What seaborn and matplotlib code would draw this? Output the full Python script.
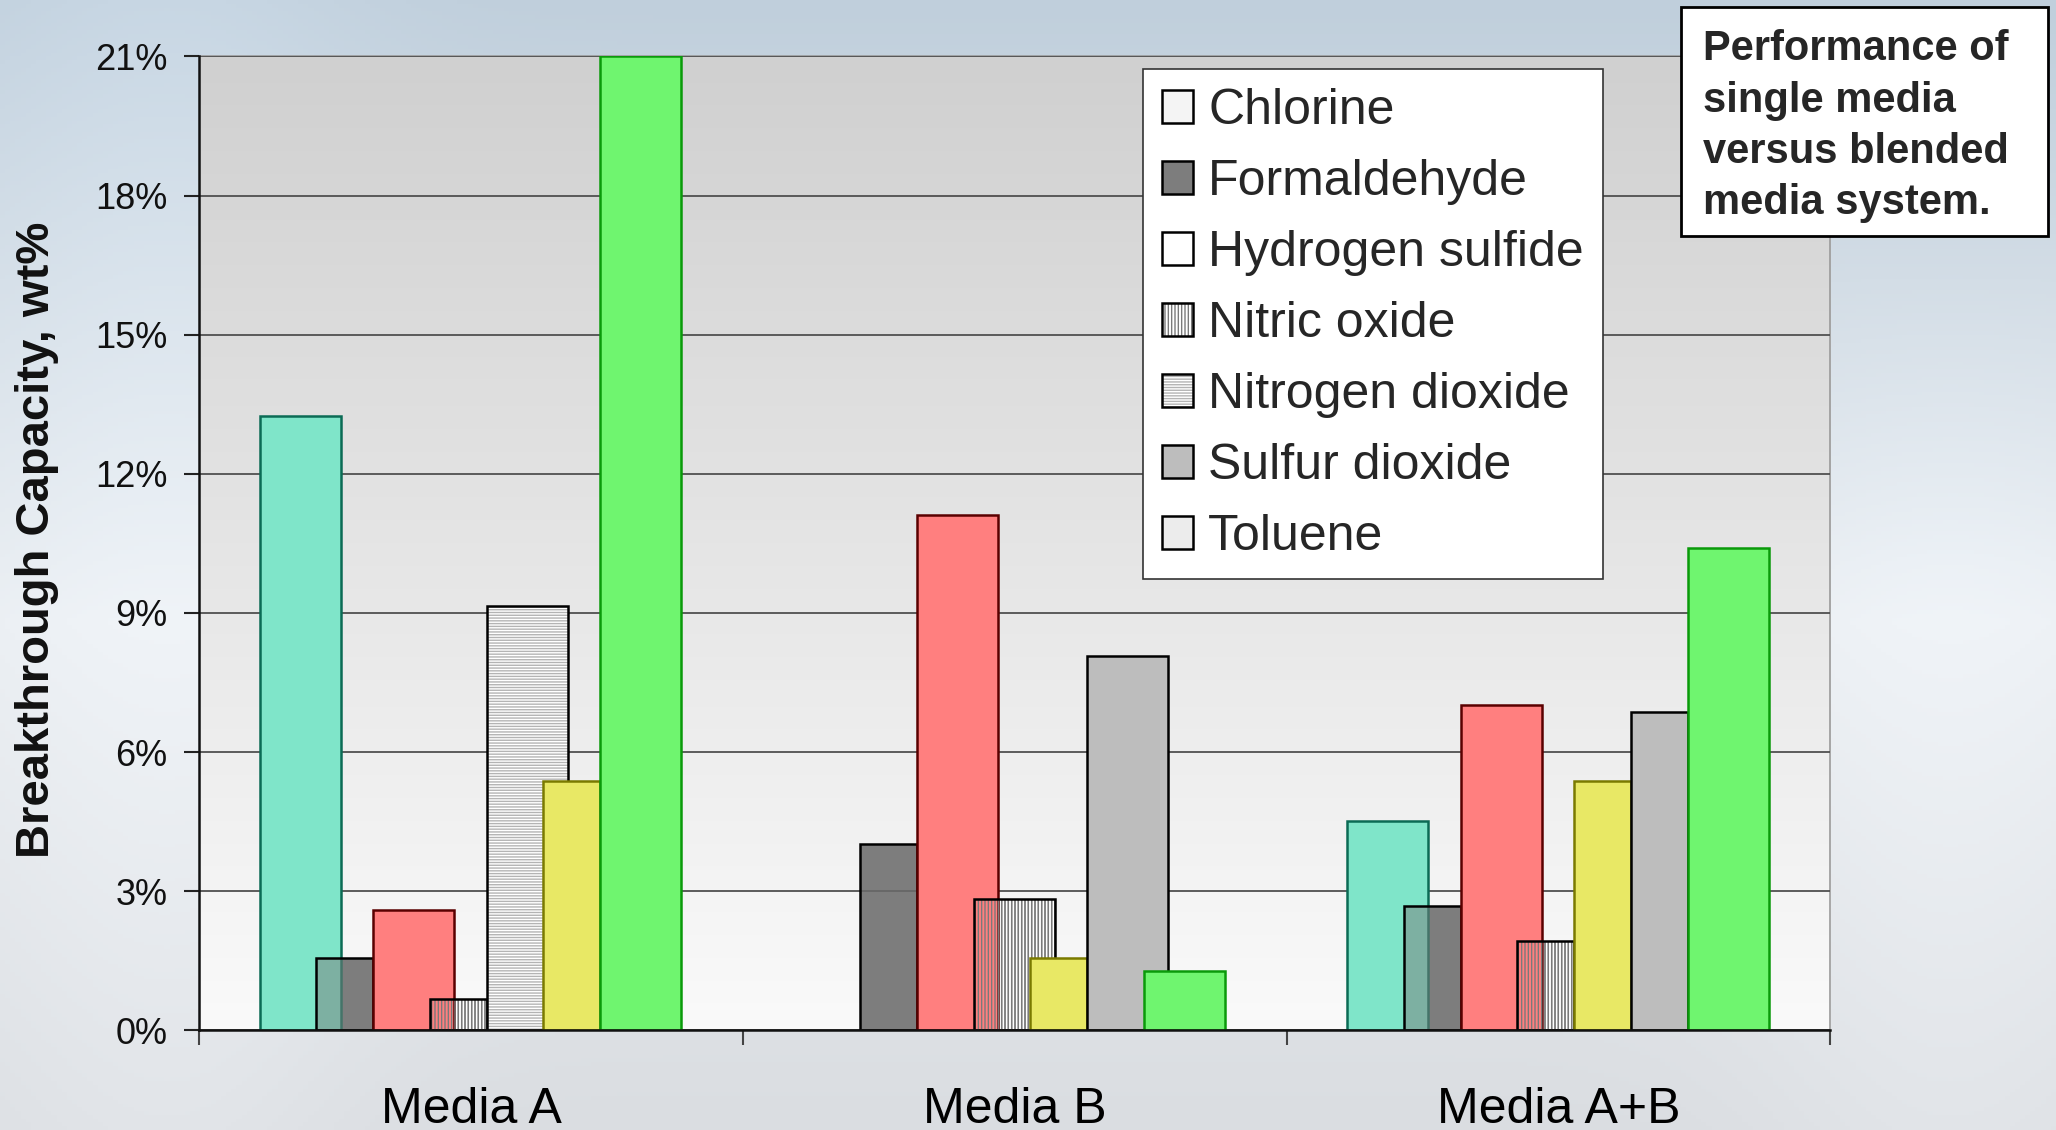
import numpy as np
import matplotlib
matplotlib.use("Agg")
import matplotlib.pyplot as plt
import seaborn as sns
from matplotlib.patches import Patch, Rectangle
from matplotlib.ticker import PercentFormatter, MultipleLocator, FixedLocator

media = ["Media A", "Media B", "Media A+B"]
gases = ["Chlorine", "Formaldehyde", "Hydrogen sulfide", "Nitric oxide",
         "Nitrogen dioxide", "Sulfur dioxide", "Toluene"]

# breakthrough capacity in wt%, one value per media (A, B, A+B)
chlorine = [13.25, 0.0, 4.52]
formaldehyde = [1.55, 4.01, 2.69]
hydrogen_sulfide = [2.60, 11.11, 7.01]
nitric_oxide = [0.68, 2.83, 1.92]
nitrogen_dioxide = [9.16, 1.55, 5.37]
sulfur_dioxide = [5.37, 8.08, 6.87]
toluene = [21.0, 1.27, 10.40]
values = [chlorine, formaldehyde, hydrogen_sulfide, nitric_oxide,
          nitrogen_dioxide, sulfur_dioxide, toluene]

# how each bar was painted in the slide (fill per media, in gas order)
fills = {
    "Media A": ["cyan", "dgray", "red", "vline", "hline", "yellow", "green"],
    "Media B": ["cyan", "dgray", "red", "vline", "yellow", "dots", "green"],
    "Media A+B": ["cyan", "dgray", "red", "vline", "yellow", "dots", "green"],
}
wide = {
    "Media A": [1, 0, 1, 0, 1, 0, 1],
    "Media B": [1, 0, 1, 1, 0, 1, 1],
    "Media A+B": [1, 0, 1, 0, 0, 0, 1],
}

styles = {
    "cyan": dict(face="#7fe5c9", edge="#0b6b55", hatch=None, hc=None, blend=False),
    "dgray": dict(face="#7d7d7d", edge="#000000", hatch=None, hc=None, blend=True),
    "red": dict(face="#ff7f7f", edge="#5a0000", hatch=None, hc=None, blend=False),
    "vline": dict(face="#ffffff", edge="#000000", hatch="|||||", hc="#7a7a7a", blend=True),
    "hline": dict(face="#ffffff", edge="#000000", hatch="------", hc="#b4b4b4", blend=False),
    "yellow": dict(face="#e8e865", edge="#7a7a00", hatch=None, hc=None, blend=False),
    "dots": dict(face="#bdbdbd", edge="#000000", hatch=None, hc=None, blend=False),
    "green": dict(face="#6ff56f", edge="#0a9a0a", hatch=None, hc=None, blend=False),
}

slot_w = 0.1044
wide_w = 0.1494
first_slot = 0.111

sns.set_style("ticks")
plt.rcParams["font.family"] = ["Liberation Sans", "DejaVu Sans"]
plt.rcParams["hatch.linewidth"] = 1.0

fig = plt.figure(figsize=(20.56, 11.30), dpi=100)

# sky-ish slide background
bg = fig.add_axes([0, 0, 1, 1], zorder=-10)
yy = np.linspace(0, 1, 300)[:, None]
xx = np.linspace(0, 1, 400)[None, :]
top = np.array([192, 207, 220]) / 255
mid = np.array([232, 236, 240]) / 255
low = np.array([218, 221, 225]) / 255
t = np.clip(yy / 0.55, 0, 1)[..., None]
img = top * (1 - t) + mid * t
t2 = np.clip((yy - 0.55) / 0.45, 0, 1)[..., None]
img = img * (1 - t2) + low * t2
img = img * np.ones((1, xx.shape[1], 1))
img = img + 0.03 * np.exp(-((xx - 0.08) ** 2) / 0.01)[..., None]
fade = np.clip((yy - 0.2) / 0.3, 0, 1)
img = img + (0.03 * np.exp(-((xx - 0.95) ** 2) / 0.01) * fade)[..., None]
bg.imshow(np.clip(img, 0, 1), aspect="auto", extent=[0, 1, 0, 1], origin="upper")
bg.axis("off")

ax = fig.add_axes([0.0969, 0.0882, 0.7934, 0.8619])
ax.set_xlim(-0.5, 2.5)
ax.set_ylim(0, 21)

# plot area gradient
grad = np.linspace(0, 1, 256)[:, None]
c_top = np.array([208, 208, 208]) / 255
c_bot = np.array([250, 250, 250]) / 255
area = c_top * (1 - grad[..., None]) + c_bot * grad[..., None]
ax.imshow(area, aspect="auto", extent=[-0.5, 2.5, 0, 21], origin="upper", zorder=0)


def put_bar(x, h, w, st, z, layer):
    if layer == "base":
        ax.bar(x, h, w, align="edge", color=st["face"], lw=0, zorder=z)
        if st["hatch"]:
            ax.bar(x, h, w, align="edge", color="none", edgecolor=st["hc"],
                   hatch=st["hatch"], lw=0, zorder=z)
        return
    if st["blend"]:
        if st["hatch"]:
            ax.bar(x, h, w, align="edge", color="none", edgecolor=st["hc"],
                   hatch=st["hatch"], lw=0, zorder=z)
        else:
            ax.bar(x, h, w, align="edge", color=st["face"], alpha=0.5, lw=0, zorder=z)
    else:
        ax.bar(x, h, w, align="edge", color=st["face"], lw=0, zorder=z)
        if st["hatch"]:
            ax.bar(x, h, w, align="edge", color="none", edgecolor=st["hc"],
                   hatch=st["hatch"], lw=0, zorder=z)
    ax.bar(x, h, w, align="edge", color="none", edgecolor=st["edge"], lw=1.8, zorder=z + 0.1)


for mi, m in enumerate(media):
    for gi in range(len(gases)):
        h = values[gi][mi]
        if h <= 0:
            continue
        st = styles[fills[m][gi]]
        x = mi - 0.5 + first_slot + gi * slot_w
        w = wide_w if wide[m][gi] else slot_w
        if st["blend"]:
            put_bar(x, h, w, st, 2, "base")
        put_bar(x, h, w, st, 3 + gi, "top")

# axes styling
ax.yaxis.set_major_locator(MultipleLocator(3))
ax.yaxis.set_major_formatter(PercentFormatter(xmax=100, decimals=0))
ax.grid(axis="y", color="#505050", lw=1.3, zorder=1)
ax.set_axisbelow(False)
for gl in ax.get_ygridlines():
    gl.set_zorder(1)
ax.tick_params(axis="y", length=11, width=1.5, color="#222222", pad=12,
               labelsize=26, labelcolor="#111111")
ax.set_xticks(range(len(media)))
ax.set_xticklabels(media)
ax.tick_params(axis="x", which="major", length=0, pad=41, labelsize=36, labelcolor="black")
ax.xaxis.set_minor_locator(FixedLocator([-0.5, 0.5, 1.5, 2.5]))
ax.tick_params(axis="x", which="minor", length=11, width=1.5, color="#444444")
for s in ["left", "bottom"]:
    ax.spines[s].set_color("#111111")
    ax.spines[s].set_linewidth(1.8)
    ax.spines[s].set_zorder(20)
for s in ["top", "right"]:
    ax.spines[s].set_color("#9a9a9a")
    ax.spines[s].set_linewidth(1.2)

fig.text(0.018, 0.522, "Breakthrough Capacity, wt%", rotation=90, ha="center",
         va="center", fontsize=34, fontweight="bold", color="#111111")

# legend with the grey pattern swatches of the original chart
sw = [
    Patch(facecolor="#f4f4f4", edgecolor="black", lw=1.8),
    Patch(facecolor="#7d7d7d", edgecolor="black", lw=1.8),
    Patch(facecolor="#ffffff", edgecolor="black", lw=1.8),
    (Patch(facecolor="#ffffff", edgecolor="#7a7a7a", hatch="|||||", lw=0),
     Patch(facecolor="none", edgecolor="black", lw=1.8)),
    (Patch(facecolor="#ffffff", edgecolor="#b4b4b4", hatch="------", lw=0),
     Patch(facecolor="none", edgecolor="black", lw=1.8)),
    Patch(facecolor="#bdbdbd", edgecolor="black", lw=1.8),
    Patch(facecolor="#ececec", edgecolor="black", lw=1.8),
]
leg = fig.legend(sw, gases, loc="upper left", bbox_to_anchor=(0.556, 0.939),
                 fontsize=36, frameon=True, fancybox=False, framealpha=1,
                 edgecolor="#333333", handlelength=0.62, handleheight=0.62,
                 handletextpad=0.3, labelspacing=0.5, borderpad=0.38,
                 borderaxespad=0)
leg.get_frame().set_linewidth(1.2)

# note box
fig.patches.append(Rectangle((0.8176, 0.791), 0.1786, 0.203, transform=fig.transFigure,
                             facecolor="white", edgecolor="black", lw=2, zorder=5))
fig.text(0.8284, 0.974, "Performance of\nsingle media\nversus blended\nmedia system.",
         ha="left", va="top", fontsize=30, fontweight="bold", linespacing=1.36,
         zorder=6)

fig.savefig("out.png", dpi=100)
